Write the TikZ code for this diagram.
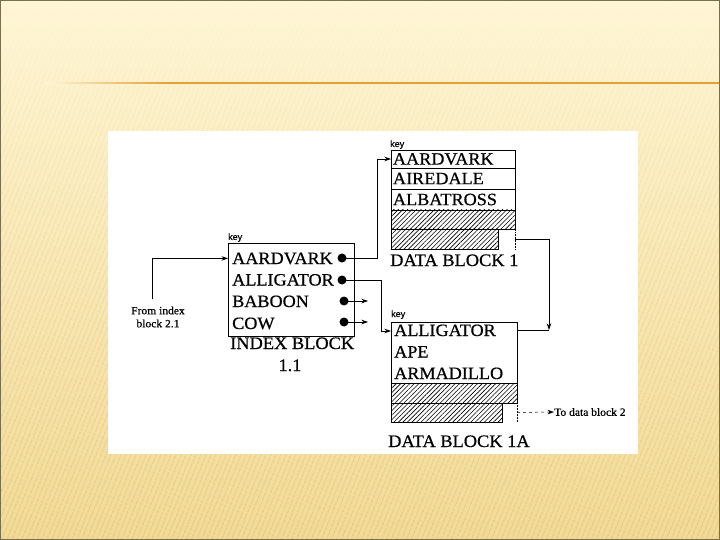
\documentclass[tikz,border=0pt]{standalone}
\usepackage{fontspec}
\setmainfont{Liberation Serif}
\newfontfamily\keyfont{Liberation Sans}[FakeBold=0.4]
\newfontfamily\scanserif{Liberation Serif}[FakeBold=0.6, FakeStretch=1.05]
\usetikzlibrary{patterns.meta,arrows.meta,calc,fadings}
\definecolor{bgtop}{HTML}{FFF6D6}
\definecolor{bgbot}{HTML}{F2DA96}
\definecolor{stripe}{HTML}{DDB860}
\definecolor{rulecol}{HTML}{E3A035}
\definecolor{framecol}{HTML}{77704F}
\newcommand\entfont{\scanserif\fontsize{17.3}{20}\selectfont}
\newcommand\blkfont{\scanserif\fontsize{17.5}{20}\selectfont}
\newcommand\smallserif{\scanserif\fontsize{11}{13}\selectfont}
\begin{document}
\begin{tikzpicture}[x=1pt,y=-1pt,
  entry/.style={font=\entfont, inner sep=0pt, anchor=base west},
  blklab/.style={font=\blkfont, inner sep=0pt, anchor=base west},
  rowbox/.style={draw, line width=0.8pt, minimum width=124, inner sep=0pt, inner xsep=2pt,
    outer sep=0pt, anchor=north west, text width=120, align=left, font=\entfont},
  hatchbox/.style={draw, line width=0.8pt, pattern={Lines[angle=45,distance=3.2pt,line width=0.6pt]},
    inner sep=0pt, outer sep=0pt, anchor=north west},
  emptybox/.style={inner sep=0pt, outer sep=0pt, anchor=north west},
  dotnode/.style={circle, fill, inner sep=0pt, minimum size=9pt},
  arr/.style={-{Stealth[length=6.5pt,width=4.5pt]}, line width=0.7pt},
  plain/.style={line width=0.7pt},
  keylab/.style={font=\keyfont\fontsize{9}{10}\selectfont, inner sep=0pt, anchor=base west},
]
% ---- slide background ----
\useasboundingbox (0,0) rectangle (720,540);
\shade[top color=bgtop, bottom color=bgbot] (0,0) rectangle (720,540);
\fill[pattern={Lines[angle=68,distance=4pt,line width=1.2pt]}, pattern color=stripe, fill opacity=0.6,
  path fading=north] (0,0) rectangle (720,540);
\shade[left color=bgtop, right color=rulecol] (45,82.4) rectangle (170,83.8);
\fill[rulecol] (170,82.4) rectangle (720,83.8);
\draw[framecol, line width=1pt] (0.5,0.5) rectangle (719.5,539.5);
\fill[white] (108,131) rectangle (638,454);

% ---- index block ----
\node[draw, line width=0.8pt, minimum width=126, minimum height=93, inner sep=0pt, outer sep=0pt,
  anchor=north west] (ib) at (228,243) {};
\node[keylab] (kib) at (228,240) {key};
\node[entry] (ia) at (232,264) {AARDVARK};
\node[entry] (ial) at (232,285.5) {ALLIGATOR};
\node[entry] (iba) at (232,307) {BABOON};
\node[entry] (ico) at (232,329) {COW};
\node[blklab] (ibl) at (230,349) {INDEX BLOCK};
\node[font=\blkfont, inner sep=0pt, anchor=base] (ibn) at (290,371) {1.1};

% ---- data block 1 ----
\node[keylab] (k1) at (390,147) {key};
\node[rowbox, minimum height=18] (r1a) at (391,150) {AARDVARK};
\node[rowbox, minimum height=21] (r1b) at (391,168) {AIREDALE};
\node[rowbox, minimum height=21] (r1c) at (391,189) {ALBATROSS};
\node[hatchbox, minimum width=124, minimum height=19] (h1a) at (391,210) {};
\node[hatchbox, minimum width=107, minimum height=20] (h1b) at (391,229) {};
\node[emptybox, minimum width=17, minimum height=20] (e1) at (498,229) {};
\draw[line width=0.5pt, densely dotted] (e1.north east) -- (e1.south east);
\node[blklab] (d1l) at (390,266) {DATA BLOCK 1};

% ---- data block 1A ----
\node[keylab] (k2) at (391,317) {key};
\node[draw, line width=0.8pt, minimum width=126, minimum height=61, inner sep=0pt, outer sep=0pt,
  anchor=north west] (b1a) at (391,322) {};
\node[entry] (t1a) at (394,336) {ALLIGATOR};
\node[entry] (t1b) at (394,357.5) {APE};
\node[entry] (t1c) at (394,379) {ARMADILLO};
\node[hatchbox, minimum width=126, minimum height=20] (h2a) at (391,383) {};
\node[hatchbox, minimum width=111, minimum height=19] (h2b) at (391,403) {};
\node[emptybox, minimum width=15, minimum height=19] (e2) at (502,403) {};
\draw[line width=0.5pt, densely dotted] (e2.north east) -- (e2.south east);
\node[blklab] (d2l) at (388,447) {DATA BLOCK 1A};

% ---- labels ----
\node[font=\smallserif, align=center, inner sep=0pt] (from) at (158,317) {From index\\block 2.1};
\node[font=\smallserif, inner sep=0pt, anchor=west] (tdb) at (554,412) {To data block 2};

% ---- connectors ----
\coordinate (fs) at (152,299);
\draw[arr] (fs) |- (ib.west |- ia);
\node[dotnode] (da) at (342,258) {};
\node[dotnode] (db) at (342,280) {};
\node[dotnode] (dc) at (344,301) {};
\node[dotnode] (dd) at (344,322) {};
\coordinate (in1a) at (391,331);
\coordinate (j) at (549,330);
\draw[arr] (da.center) -- ++(35,0) |- (r1a.west);
\draw[arr] (db.center) -- ++(39,0) |- (in1a);
\draw[arr] (dc.center) -- ++(24,0);
\draw[arr] (dd.center) -- ++(24,0);
\draw[arr] (e1.east) -| (j);
\draw[plain] (b1a.east |- j) -- (j);
\draw[arr, dashed, line width=0.5pt] (e2.east) -- (tdb.west);
\end{tikzpicture}
\end{document}
